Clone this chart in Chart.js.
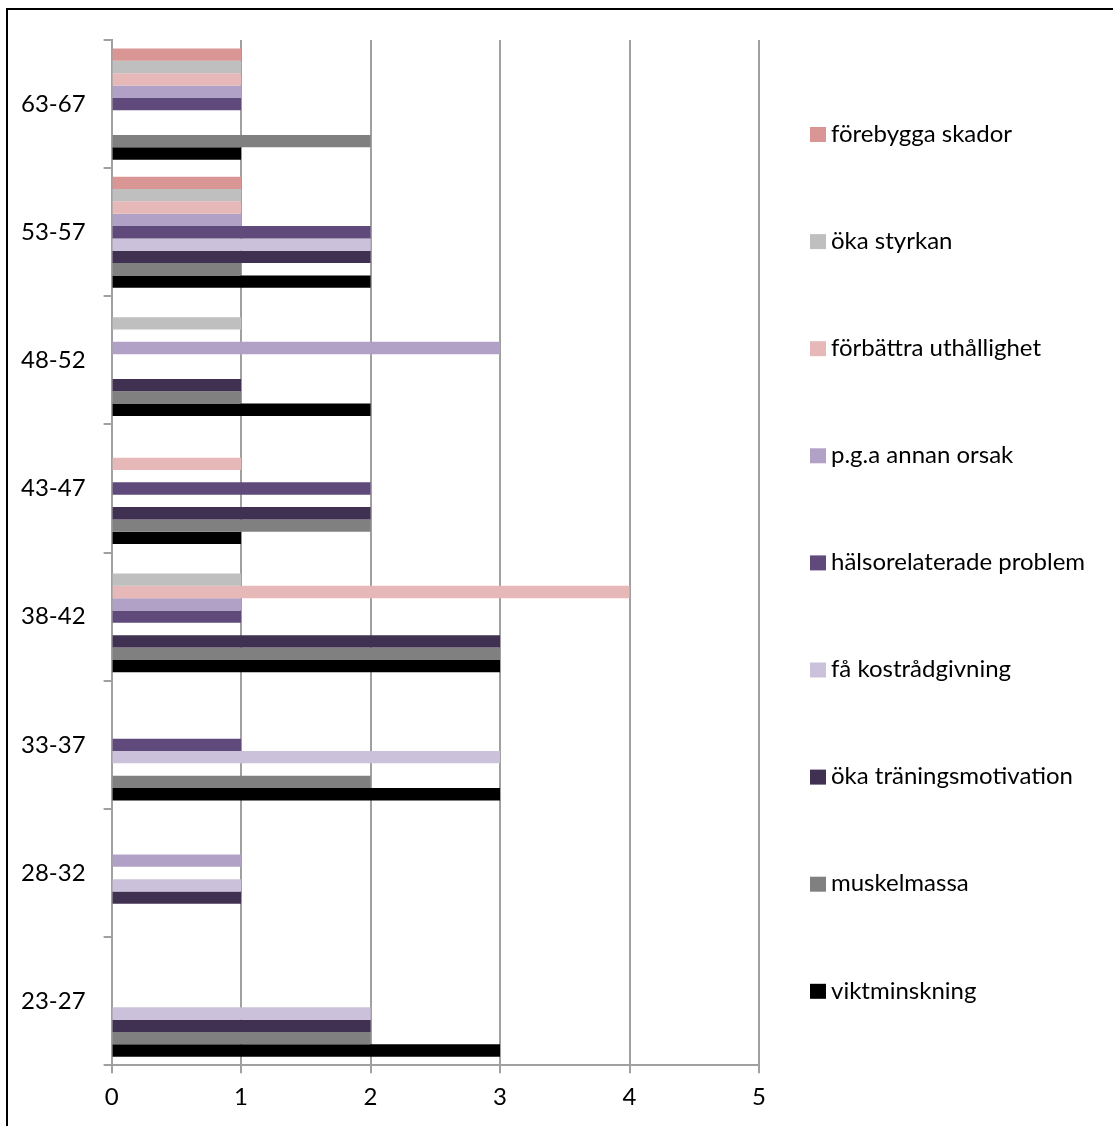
<!DOCTYPE html>
<html>
<head>
<meta charset="utf-8">
<script src="https://cdn.jsdelivr.net/npm/chart.js@4"></script>
<style>
  html, body { margin:0; padding:0; background:#fff; overflow:hidden; }
  #frame { position:absolute; left:6px; top:8px; width:1300px; height:1300px;
           border-left:2px solid #000; border-top:2px solid #000; }
  #wrap { position:absolute; left:0; top:0; width:1113px; height:1126px; }
</style>
</head>
<body>
<div id="frame"></div>
<div id="wrap"><canvas id="chart"></canvas></div>
<script>
// --- Daten ---
const categories = ["23-27","28-32","33-37","38-42","43-47","48-52","53-57","63-67"];

const forebyggaSkador      = [0,0,0,0,0,0,1,1];
const okaStyrkan           = [0,0,0,1,0,1,1,1];
const forbattraUthallighet = [0,0,0,4,1,0,1,1];
const annanOrsak           = [0,1,0,1,0,3,1,1];
const halsorelaterade      = [0,0,1,1,2,0,2,1];
const kostradgivning       = [2,1,3,0,0,0,2,0];
const traningsmotivation   = [2,1,0,3,2,1,2,0];
const muskelmassa          = [2,0,2,3,2,1,1,2];
const viktminskning        = [3,0,3,3,1,2,2,1];

const xTicks = [0,1,2,3,4,5];

const FONT = "Lato";
const GRID = "#a0a0a0";

// Reihenfolge = oben nach unten im Balkenblock und in der Legende
const series = [
  {label:"förebygga skador",        data:forebyggaSkador,      color:"#d99694"},
  {label:"öka styrkan",             data:okaStyrkan,           color:"#bfbfbf"},
  {label:"förbättra uthållighet",   data:forbattraUthallighet, color:"#e6b9b8"},
  {label:"p.g.a annan orsak",       data:annanOrsak,           color:"#b2a1c7"},
  {label:"hälsorelaterade problem", data:halsorelaterade,      color:"#604a7b"},
  {label:"få kostrådgivning",       data:kostradgivning,       color:"#ccc1da"},
  {label:"öka träningsmotivation",  data:traningsmotivation,   color:"#403152"},
  {label:"muskelmassa",             data:muskelmassa,          color:"#808080"},
  {label:"viktminskning",           data:viktminskning,        color:"#000000"}
];

// --- Legende rechts (eigenes Plugin, Abstände wie im Original) ---
const sideLegend = {
  id:"sideLegend",
  afterDraw(chart){
    const ctx = chart.ctx;
    ctx.save();
    ctx.font = `24px ${FONT}`;
    ctx.textBaseline = "middle";
    ctx.textAlign = "left";
    chart.data.datasets.forEach((ds,i)=>{
      const y = 134 + i*107.1;
      ctx.fillStyle = ds.backgroundColor;
      ctx.fillRect(810, y-7, 16, 15);
      ctx.fillStyle = "#000";
      ctx.fillText(ds.label, 831, y);
    });
    ctx.restore();
  }
};

new Chart(document.getElementById("chart"),{
  type:"bar",
  data:{
    labels:categories,
    datasets:series.map(s=>({
      label:s.label,
      data:s.data,
      backgroundColor:s.color,
      borderWidth:0
    }))
  },
  options:{
    indexAxis:"y",
    responsive:true,
    maintainAspectRatio:false,
    animation:false,
    categoryPercentage:0.867,
    barPercentage:1,
    layout:{padding:{left:3, top:40, right:354, bottom:4}},
    plugins:{legend:{display:false}, tooltip:{enabled:false}},
    scales:{
      x:{
        min:0, max:5,
        z:1,
        afterBuildTicks(scale){ scale.ticks = xTicks.map(v=>({value:v})); },
        grid:{color:GRID, lineWidth:2, tickLength:8},
        border:{color:GRID, width:2},
        ticks:{color:"#000", font:{family:FONT, size:24}, padding:10}
      },
      y:{
        reverse:true,
        grid:{drawOnChartArea:false, color:GRID, lineWidth:2, tickLength:8},
        border:{color:GRID, width:2},
        ticks:{color:"#000", font:{family:FONT, size:24}, padding:18}
      }
    }
  },
  plugins:[sideLegend]
});
</script>
</body>
</html>
